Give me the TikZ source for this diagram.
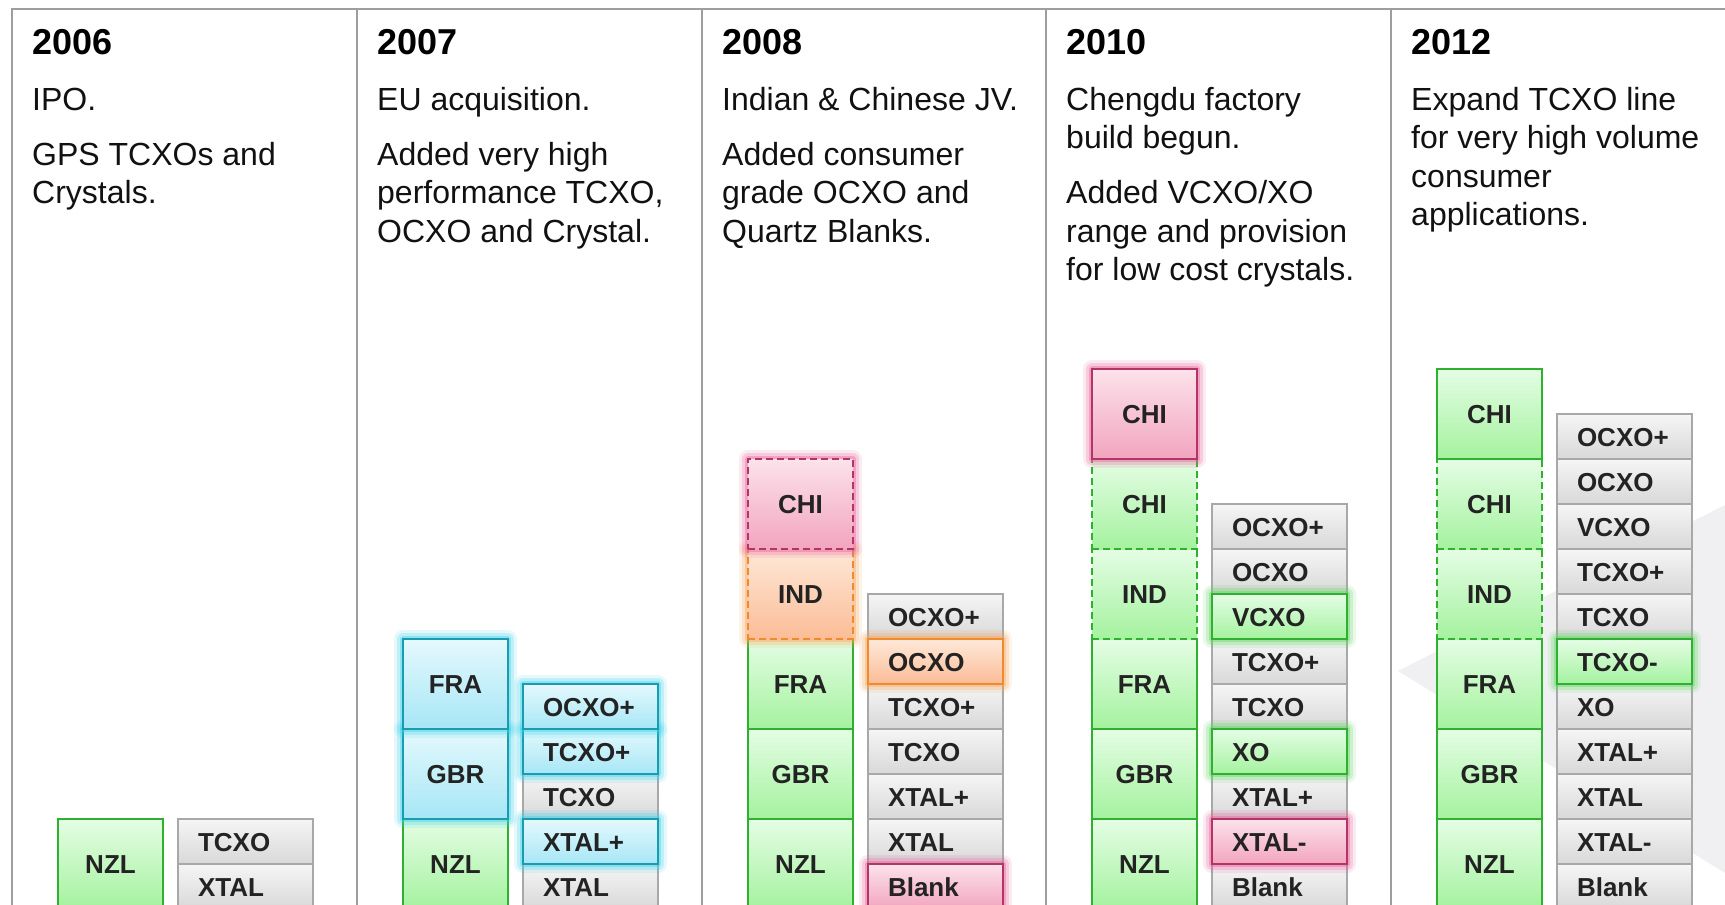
\documentclass[tikz,border=0pt]{standalone}
\usepackage{fontspec}
\setmainfont{Liberation Sans}
\definecolor{grT}{HTML}{F5F5F5}
\definecolor{grB}{HTML}{D8D8D8}
\definecolor{grL}{HTML}{A8A8A8}
\definecolor{gnT}{HTML}{E4FDE4}
\definecolor{gnB}{HTML}{A4F29E}
\definecolor{gnL}{HTML}{30B030}
\definecolor{gnG}{HTML}{5CD65C}
\definecolor{blT}{HTML}{E4F9FD}
\definecolor{blB}{HTML}{A6E6F6}
\definecolor{blL}{HTML}{1A9CAE}
\definecolor{blG}{HTML}{38D2EC}
\definecolor{pkT}{HTML}{FCE2EA}
\definecolor{pkB}{HTML}{F2A4BE}
\definecolor{pkL}{HTML}{B53468}
\definecolor{pkG}{HTML}{E8609A}
\definecolor{orT}{HTML}{FEE8D8}
\definecolor{orB}{HTML}{FBBC96}
\definecolor{orL}{HTML}{EF8A2E}
\definecolor{orG}{HTML}{F8A458}
\definecolor{ruleC}{HTML}{9E9E9E}
\definecolor{wmark}{HTML}{F0F0F2}
\definecolor{txtC}{HTML}{111111}
\definecolor{celltxt}{HTML}{232323}
\newcommand\cellft{\fontsize{26}{30}\selectfont\bfseries}
\newcommand\yearft{\fontsize{36}{40}\selectfont\bfseries}
\newcommand\bodyft{\fontsize{32}{38}\selectfont}
\tikzset{
  cellbase/.style={rectangle, anchor=south west, minimum width=135pt, minimum height=45pt,
    inner xsep=20pt, inner ysep=0pt, text width=95pt, align=left, font=\cellft,
    text height=18.7pt, text depth=0pt, line width=2pt, text=celltxt},
  ctrybase/.style={rectangle, anchor=south west, minimum width=105pt, minimum height=90pt,
    inner sep=0pt, align=center, font=\cellft, text height=18.7pt, text depth=0pt,
    line width=2pt, text=celltxt},
  sgray/.style={draw=grL, top color=grT, bottom color=grB},
  sgreen/.style={draw=gnL, top color=gnT, bottom color=gnB},
  sblue/.style={draw=blL, top color=blT, bottom color=blB},
  spink/.style={draw=pkL, top color=pkT, bottom color=pkB},
  sorange/.style={draw=orL, top color=orT, bottom color=orB},
  dashb/.style={dash pattern=on 7pt off 4pt},
  glow/.style={
    preaction={draw=#1, solid, line join=round, line width=18pt, opacity=0.13},
    preaction={draw=#1, solid, line join=round, line width=12pt, opacity=0.22},
    preaction={draw=#1, solid, line join=round, line width=6pt, opacity=0.38}},
  yeartxt/.style={anchor=base west, inner sep=0pt, font=\yearft, text=black},
  bodytxt/.style={anchor=base west, inner sep=0pt, font=\bodyft, text=txtC},
}
% right cell: name, x, row k, style, text
\newcommand\rcell[5]{\node[cellbase,#4] (#1) at (#2,{-5.4+45*#3}) {#5};}
% country/left cell
\newcommand\lcell[5]{\node[ctrybase,#4] (#1) at (#2,{-5.4+90*#3}) {#5};}
\begin{document}
\begin{tikzpicture}[x=1pt,y=1pt]
\useasboundingbox (0,0) rectangle (1725,905);
\clip (0,0) rectangle (1725,905);
\fill[white] (0,0) rectangle (1725,905);
% watermark
\fill[wmark] (1398,234) -- (1725,400) -- (1725,32) -- cycle;
% frame lines
\draw[ruleC, line width=2pt] (12,-5) -- (12,896) -- (1730,896);
\foreach \xd in {357,702,1046,1391} {\draw[ruleC, line width=2pt] (\xd,-5) -- (\xd,896);}
% ---------- texts ----------
\node[yeartxt] (y06) at (32,850.5) {2006};
\node[bodytxt] (t06a) at (32,794.5) {IPO.};
\node[bodytxt] (t06b) at (32,739.5) {GPS TCXOs and};
\node[bodytxt] (t06c) at (32,701) {Crystals.};
\node[yeartxt] (y07) at (377,850.5) {2007};
\node[bodytxt] (t07a) at (377,794.5) {EU acquisition.};
\node[bodytxt] (t07b) at (377,739.5) {Added very high};
\node[bodytxt] (t07c) at (377,701) {performance TCXO,};
\node[bodytxt] (t07d) at (377,662.5) {OCXO and Crystal.};
\node[yeartxt] (y08) at (722,850.5) {2008};
\node[bodytxt] (t08a) at (722,794.5) {Indian \& Chinese JV.};
\node[bodytxt] (t08b) at (722,739.5) {Added consumer};
\node[bodytxt] (t08c) at (722,701) {grade OCXO and};
\node[bodytxt] (t08d) at (722,662.5) {Quartz Blanks.};
\node[yeartxt] (y10) at (1066,850.5) {2010};
\node[bodytxt] (t10a) at (1066,794.5) {Chengdu factory};
\node[bodytxt] (t10b) at (1066,756) {build begun.};
\node[bodytxt] (t10c) at (1066,701) {Added VCXO/XO};
\node[bodytxt] (t10d) at (1066,662.5) {range and provision};
\node[bodytxt] (t10e) at (1066,624) {for low cost crystals.};
\node[yeartxt] (y12) at (1411,850.5) {2012};
\node[bodytxt] (t12a) at (1411,794.5) {Expand TCXO line};
\node[bodytxt] (t12b) at (1411,756) {for very high volume};
\node[bodytxt] (t12c) at (1411,717.5) {consumer};
\node[bodytxt] (t12d) at (1411,679) {applications.};
% ---------- 2006 ----------
\lcell{a06n}{57}{0}{sgreen}{NZL}
\rcell{b06x}{177}{0}{sgray}{XTAL}
\rcell{b06t}{177}{1}{sgray}{TCXO}
% ---------- 2007 ----------
\lcell{a07n}{402}{0}{sgreen}{NZL}
\rcell{b07x}{522}{0}{sgray}{XTAL}
\rcell{b07t}{522}{2}{sgray}{TCXO}
% ---------- 2008 ----------
\lcell{a08n}{747}{0}{sgreen}{NZL}
\lcell{a08g}{747}{1}{sgreen}{GBR}
\lcell{a08f}{747}{2}{sgreen}{FRA}
\rcell{b08x}{867}{1}{sgray}{XTAL}
\rcell{b08xp}{867}{2}{sgray}{XTAL+}
\rcell{b08t}{867}{3}{sgray}{TCXO}
\rcell{b08tp}{867}{4}{sgray}{TCXO+}
\rcell{b08op}{867}{6}{sgray}{OCXO+}
% ---------- 2010 ----------
\lcell{a10n}{1091}{0}{sgreen}{NZL}
\lcell{a10g}{1091}{1}{sgreen}{GBR}
\lcell{a10f}{1091}{2}{sgreen}{FRA}
\lcell{a10i}{1091}{3}{sgreen,dashb}{IND}
\lcell{a10c}{1091}{4}{sgreen,dashb}{CHI}
\rcell{b10b}{1211}{0}{sgray}{Blank}
\rcell{b10xp}{1211}{2}{sgray}{XTAL+}
\rcell{b10t}{1211}{4}{sgray}{TCXO}
\rcell{b10tp}{1211}{5}{sgray}{TCXO+}
\rcell{b10o}{1211}{7}{sgray}{OCXO}
\rcell{b10op}{1211}{8}{sgray}{OCXO+}
% ---------- 2012 ----------
\lcell{a12n}{1436}{0}{sgreen}{NZL}
\lcell{a12g}{1436}{1}{sgreen}{GBR}
\lcell{a12f}{1436}{2}{sgreen}{FRA}
\lcell{a12i}{1436}{3}{sgreen,dashb}{IND}
\lcell{a12c}{1436}{4}{sgreen,dashb}{CHI}
\lcell{a12cc}{1436}{5}{sgreen}{CHI}
\rcell{b12b}{1556}{0}{sgray}{Blank}
\rcell{b12xm}{1556}{1}{sgray}{XTAL-}
\rcell{b12x}{1556}{2}{sgray}{XTAL}
\rcell{b12xp}{1556}{3}{sgray}{XTAL+}
\rcell{b12xo}{1556}{4}{sgray}{XO}
\rcell{b12t}{1556}{6}{sgray}{TCXO}
\rcell{b12tp}{1556}{7}{sgray}{TCXO+}
\rcell{b12v}{1556}{8}{sgray}{VCXO}
\rcell{b12o}{1556}{9}{sgray}{OCXO}
\rcell{b12op}{1556}{10}{sgray}{OCXO+}
% ---------- highlighted cells (glow) ----------
\lcell{a07g}{402}{1}{sblue,glow=blG}{GBR}
\lcell{a07f}{402}{2}{sblue,glow=blG}{FRA}
\rcell{b07xp}{522}{1}{sblue,glow=blG}{XTAL+}
\rcell{b07tp}{522}{3}{sblue,glow=blG}{TCXO+}
\rcell{b07op}{522}{4}{sblue,glow=blG}{OCXO+}
\lcell{a08i}{747}{3}{sorange,dashb,glow=orG}{IND}
\lcell{a08c}{747}{4}{spink,dashb,glow=pkG}{CHI}
\rcell{b08b}{867}{0}{spink,glow=pkG}{Blank}
\rcell{b08o}{867}{5}{sorange,glow=orG}{OCXO}
\lcell{a10cc}{1091}{5}{spink,glow=pkG}{CHI}
\rcell{b10xm}{1211}{1}{spink,glow=pkG}{XTAL-}
\rcell{b10xo}{1211}{3}{sgreen,glow=gnG}{XO}
\rcell{b10v}{1211}{6}{sgreen,glow=gnG}{VCXO}
\rcell{b12tm}{1556}{5}{sgreen,glow=gnG}{TCXO-}
\end{tikzpicture}
\end{document}
